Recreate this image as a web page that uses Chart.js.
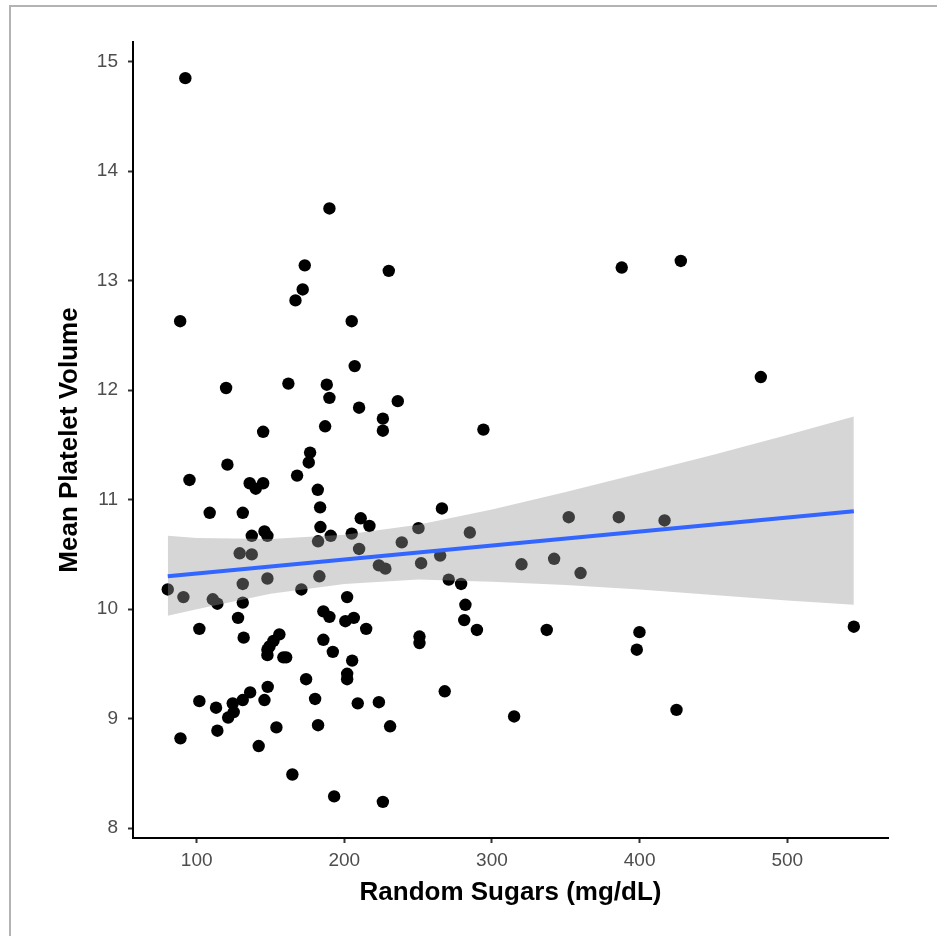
<!DOCTYPE html>
<html>
<head>
<meta charset="utf-8">
<script src="https://cdn.jsdelivr.net/npm/chart.js@4.4.1/dist/chart.umd.min.js"></script>
<style>
  body { margin: 0; background: #fff; }
  #wrap { position: relative; width: 937px; height: 936px; }
  #frame { position: absolute; left: 9px; top: 5px; right: 0; bottom: 0;
           border-top: 2px solid #b3b3b3; border-left: 2px solid #b3b3b3; pointer-events: none; }
</style>
</head>
<body>
<div id="wrap">
  <canvas id="scatter-chart" width="937" height="936"></canvas>
  <div id="frame"></div>
</div>
<script>
// random sugars (mg/dL) vs mean platelet volume
const sugars = [
  92.3, 189.9, 173.2, 230.1, 171.8, 387.9, 427.9, 482.1, 166.9, 88.8,
  205.0, 207.0, 119.9, 162.1, 188.1, 189.9, 210.0, 226.1, 226.1, 145.0,
  187.0, 176.8, 175.9, 120.8, 168.0, 95.1, 135.9, 145.0, 140.0, 182.0,
  108.8, 131.2, 183.6, 211.1, 217.0, 183.8, 137.3, 145.9, 147.9, 205.0,
  190.8, 182.2, 210.0, 129.1, 137.3, 131.2, 147.9, 183.1, 170.9, 80.4,
  91.0, 110.9, 114.0, 131.2, 201.9, 223.4, 227.8, 185.8, 189.9, 200.7,
  206.4, 214.8, 128.0, 101.8, 131.8, 156.0, 152.0, 149.3, 147.9, 147.9,
  158.7, 160.6, 185.8, 192.2, 205.3, 201.9, 201.9, 174.1, 180.2, 209.1,
  223.4, 148.1, 136.2, 145.9, 131.2, 124.4, 125.1, 121.3, 113.1, 101.8,
  114.0, 89.0, 154.0, 182.2, 142.0, 164.8, 193.1, 226.1, 231.0, 236.2,
  294.2, 266.1, 250.2, 238.9, 285.0, 352.0, 385.9, 416.9, 264.9, 252.0,
  320.0, 342.1, 360.0, 270.7, 279.1, 282.0, 281.2, 289.8, 337.1, 250.9,
  250.9, 399.9, 398.1, 545.1, 268.0, 315.0, 425.0
];
const mpv = [
  14.85, 13.66, 13.14, 13.09, 12.92, 13.12, 13.18, 12.12, 12.82, 12.63,
  12.63, 12.22, 12.02, 12.06, 12.05, 11.93, 11.84, 11.74, 11.63, 11.62,
  11.67, 11.43, 11.34, 11.32, 11.22, 11.18, 11.15, 11.15, 11.10, 11.09,
  10.88, 10.88, 10.93, 10.83, 10.76, 10.75, 10.67, 10.71, 10.67, 10.69,
  10.67, 10.62, 10.55, 10.51, 10.50, 10.23, 10.28, 10.30, 10.18, 10.18,
  10.11, 10.09, 10.05, 10.06, 10.11, 10.40, 10.37, 9.98, 9.93, 9.89,
  9.92, 9.82, 9.92, 9.82, 9.74, 9.77, 9.71, 9.66, 9.63, 9.58,
  9.56, 9.56, 9.72, 9.61, 9.53, 9.41, 9.36, 9.36, 9.18, 9.14,
  9.15, 9.29, 9.24, 9.17, 9.17, 9.14, 9.06, 9.01, 9.10, 9.16,
  8.89, 8.82, 8.92, 8.94, 8.75, 8.49, 8.29, 8.24, 8.93, 11.90,
  11.64, 10.92, 10.74, 10.61, 10.70, 10.84, 10.84, 10.81, 10.49, 10.42,
  10.41, 10.46, 10.33, 10.27, 10.23, 10.04, 9.90, 9.81, 9.81, 9.75,
  9.69, 9.79, 9.63, 9.84, 9.25, 9.02, 9.08
];

// fitted line and its confidence band, read at a few x positions
const fitX = [80.4, 545.1];
const fitY = [10.30, 10.895];
const bandX = [80.4, 100, 150, 200, 250, 300, 350, 400, 450, 500, 545.1];
const bandUpper = [10.67, 10.65, 10.64, 10.68, 10.77, 10.91, 11.07, 11.24, 11.41, 11.59, 11.76];
const bandLower = [9.94, 10.00, 10.14, 10.23, 10.27, 10.25, 10.22, 10.18, 10.13, 10.08, 10.04];

const xTicks = [100, 200, 300, 400, 500];
const yTicks = [8, 9, 10, 11, 12, 13, 14, 15];

const toPoints = (xs, ys) => xs.map((x, i) => ({ x: x, y: ys[i] }));

const tickFont = { family: "'Liberation Sans', Arial, sans-serif", size: 19 };
const titleFont = { family: "'Liberation Sans', Arial, sans-serif", size: 26, weight: "bold" };

new Chart(document.getElementById("scatter-chart"), {
  type: "scatter",
  data: {
    datasets: [
      {
        label: "Patients",
        data: toPoints(sugars, mpv),
        backgroundColor: "#000",
        borderWidth: 0,
        pointRadius: 6.2,
        order: 3,
      },
      {
        type: "line",
        label: "upper",
        data: toPoints(bandX, bandUpper),
        borderWidth: 0,
        pointRadius: 0,
        fill: "+1",
        backgroundColor: "rgba(153,153,153,0.4)",
        order: 2,
      },
      {
        type: "line",
        label: "lower",
        data: toPoints(bandX, bandLower),
        borderWidth: 0,
        pointRadius: 0,
        fill: false,
        order: 2,
      },
      {
        type: "line",
        label: "fit",
        data: toPoints(fitX, fitY),
        borderColor: "#3366ff",
        borderWidth: 4,
        pointRadius: 0,
        fill: false,
        order: 1,
      },
    ],
  },
  options: {
    responsive: false,
    animation: false,
    layout: { padding: { left: 0, right: 49, top: 42, bottom: 0 } },
    plugins: { legend: { display: false }, tooltip: { enabled: false } },
    scales: {
      x: {
        type: "linear",
        min: 56.85,
        max: 568.25,
        afterBuildTicks: (s) => { s.ticks = xTicks.map((v) => ({ value: v })); },
        afterFit: (s) => { s.height = 98; },
        grid: { drawOnChartArea: false, tickLength: 5, tickColor: "#333", tickWidth: 2 },
        border: { color: "#000", width: 2 },
        ticks: { color: "#4d4d4d", font: tickFont, padding: 6, maxRotation: 0 },
        title: { display: true, text: "Random Sugars (mg/dL)", color: "#000", font: titleFont,
                 padding: { top: 0, bottom: 28 } },
      },
      y: {
        type: "linear",
        min: 7.91,
        max: 15.18,
        afterBuildTicks: (s) => { s.ticks = yTicks.map((v) => ({ value: v })); },
        afterFit: (s) => { s.width = 133; },
        grid: { drawOnChartArea: false, tickLength: 5, tickColor: "#333", tickWidth: 2 },
        border: { color: "#000", width: 2 },
        ticks: { color: "#4d4d4d", font: tickFont, padding: 10 },
        title: { display: true, text: "Mean Platelet Volume", color: "#000", font: titleFont,
                 padding: { top: 54, bottom: 0 } },
      },
    },
  },
});
</script>
</body>
</html>
